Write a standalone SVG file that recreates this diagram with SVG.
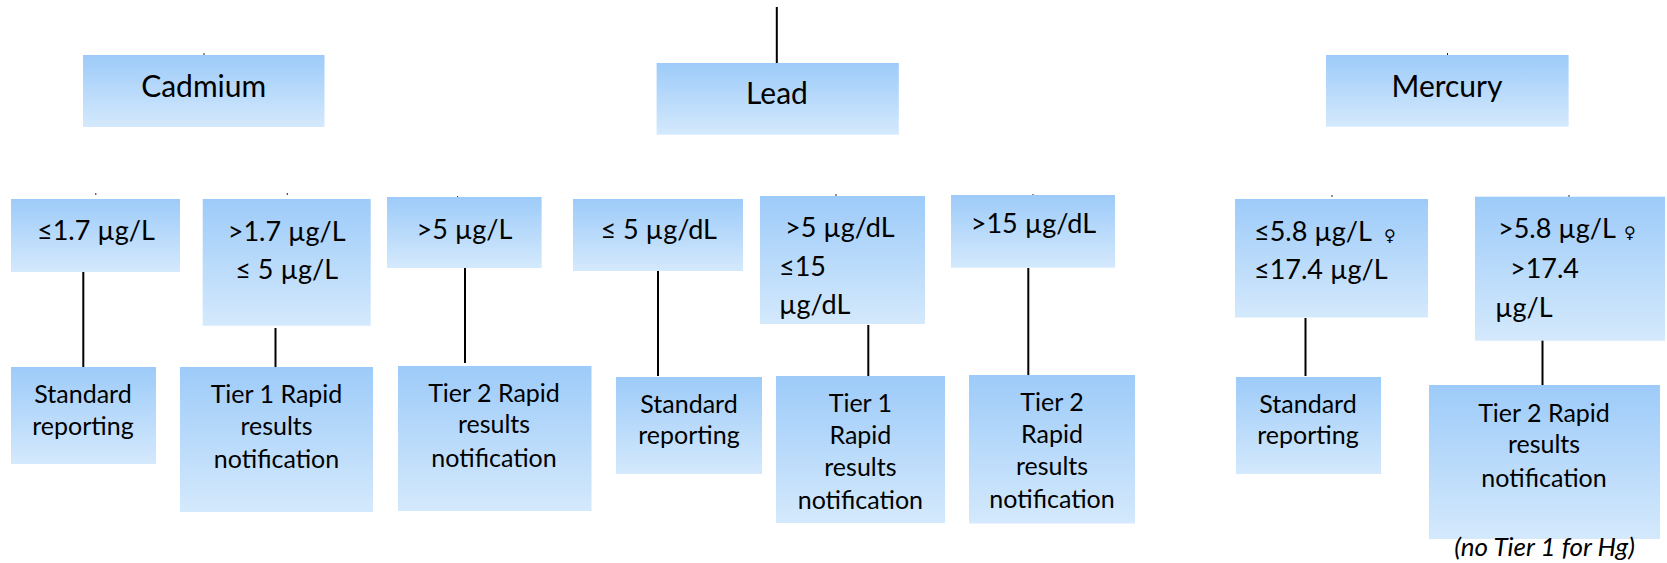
<svg xmlns="http://www.w3.org/2000/svg" width="1667" height="563" viewBox="0 0 1667 563">
<defs>
<linearGradient id="g" x1="0" y1="0" x2="0" y2="1">
<stop offset="0" stop-color="#9DCBF9"/>
<stop offset="1" stop-color="#D4E9FC"/>
</linearGradient>
<style>
.box{fill:url(#g);stroke:none}
.t{font-family:Lato,"DejaVu Sans",sans-serif;fill:#000}
.h{font-size:30px;text-anchor:middle}
.th{font-size:27px}
.c{text-anchor:middle}
.o{font-size:25px;text-anchor:middle}
.n{font-size:26px;font-style:italic;text-anchor:middle}
.fem{font-size:16px;font-family:"DejaVu Sans",sans-serif}
.ln{stroke:#000;stroke-width:2;fill:none}
.tk{stroke:#222;stroke-width:1;fill:none}
</style>
</defs>
<rect width="1667" height="563" fill="#fff"/>
<g id="connectors">
<line class="ln" x1="776.8" y1="7" x2="776.8" y2="63"/>
<line class="ln" x1="83.3" y1="272" x2="83.3" y2="367"/>
<line class="ln" x1="275.5" y1="328" x2="275.5" y2="367"/>
<line class="ln" x1="465" y1="268" x2="465" y2="363"/>
<line class="ln" x1="658" y1="271" x2="658" y2="376"/>
<line class="ln" x1="868.3" y1="325" x2="868.3" y2="376"/>
<line class="ln" x1="1028.3" y1="268" x2="1028.3" y2="375"/>
<line class="ln" x1="1305.5" y1="318" x2="1305.5" y2="376"/>
<line class="ln" x1="1542.5" y1="324" x2="1542.5" y2="385"/>
<line class="tk" x1="204" y1="53" x2="204" y2="55"/>
<line class="tk" x1="1447.5" y1="53" x2="1447.5" y2="55"/>
<line class="tk" x1="95.8" y1="193" x2="95.8" y2="195"/>
<line class="tk" x1="287.3" y1="193" x2="287.3" y2="195"/>
<line class="tk" x1="457.6" y1="196" x2="457.6" y2="198"/>
<line class="tk" x1="668.8" y1="199" x2="668.8" y2="201"/>
<line class="tk" x1="836" y1="194" x2="836" y2="196"/>
<line class="tk" x1="1033" y1="194" x2="1033" y2="196"/>
<line class="tk" x1="1332" y1="195" x2="1332" y2="197"/>
<line class="tk" x1="1569" y1="195" x2="1569" y2="197"/>
</g>
<g id="cadmium">
<rect class="box" x="83" y="55" width="241.5" height="72"/>
<text class="t h" x="203.7" y="96.7">Cadmium</text>
</g>
<g id="lead">
<rect class="box" x="656.6" y="63" width="242.2" height="71.7"/>
<text class="t h" x="777" y="104">Lead</text>
</g>
<g id="mercury">
<rect class="box" x="1326" y="55" width="242.6" height="71.7"/>
<text class="t h" x="1447" y="96.7">Mercury</text>
</g>
<g id="cd-low">
<rect class="box" x="11" y="199" width="169" height="73"/>
<text class="t th c" x="96" y="240">≤1.7 µg/L</text>
</g>
<g id="cd-mid">
<rect class="box" x="202.7" y="199" width="168" height="126.7"/>
<text class="t th c" x="286.7" y="240.7">&gt;1.7 µg/L</text>
<text class="t th c" x="286.7" y="279">≤ 5 µg/L</text>
</g>
<g id="cd-high">
<rect class="box" x="387" y="197" width="154.6" height="71"/>
<text class="t th c" x="464.5" y="239">&gt;5 µg/L</text>
</g>
<g id="pb-low">
<rect class="box" x="573" y="199" width="170" height="72"/>
<text class="t th c" x="658.7" y="239.3">≤ 5 µg/dL</text>
</g>
<g id="pb-mid">
<rect class="box" x="760" y="196" width="165" height="128"/>
<text class="t th" x="785" y="236.7">&gt;5 µg/dL</text>
<text class="t th" x="779" y="275.5">≤15</text>
<text class="t th" x="779" y="314.3">µg/dL</text>
</g>
<g id="pb-high">
<rect class="box" x="951" y="195" width="164" height="72.7"/>
<text class="t th c" x="1033.4" y="232.7">&gt;15 µg/dL</text>
</g>
<g id="hg-low">
<rect class="box" x="1235" y="199" width="193" height="118.5"/>
<text class="t th" x="1254" y="240.7">≤5.8 µg/L <tspan class="fem" dx="6">♀</tspan></text>
<text class="t th" x="1254" y="279">≤17.4 µg/L</text>
</g>
<g id="hg-high">
<rect class="box" x="1475" y="196.7" width="190" height="144"/>
<text class="t th" x="1498" y="238.3">&gt;5.8 µg/L <tspan class="fem" dx="2">♀</tspan></text>
<text class="t th" x="1510" y="278.3">&gt;17.4</text>
<text class="t th" x="1495" y="316.7">µg/L</text>
</g>
<g id="cd-standard">
<rect class="box" x="11" y="367" width="145" height="97"/>
<text class="t o" x="83" y="402.7">Standard</text>
<text class="t o" x="83" y="435.3">reporting</text>
</g>
<g id="cd-tier1">
<rect class="box" x="180" y="367" width="193" height="145"/>
<text class="t o" x="276.5" y="402.7">Tier 1 Rapid</text>
<text class="t o" x="276.5" y="435.3">results</text>
<text class="t o" x="276.5" y="467.7">notification</text>
</g>
<g id="cd-tier2">
<rect class="box" x="398" y="366" width="193.5" height="145"/>
<text class="t o" x="494" y="401.7">Tier 2 Rapid</text>
<text class="t o" x="494" y="433.3">results</text>
<text class="t o" x="494" y="466.7">notification</text>
</g>
<g id="pb-standard">
<rect class="box" x="616" y="377" width="146" height="97"/>
<text class="t o" x="689" y="412.7">Standard</text>
<text class="t o" x="689" y="444.3">reporting</text>
</g>
<g id="pb-tier1">
<rect class="box" x="776" y="376" width="169" height="147"/>
<text class="t o" x="860.4" y="411.7">Tier 1</text>
<text class="t o" x="860.4" y="444.3">Rapid</text>
<text class="t o" x="860.4" y="476">results</text>
<text class="t o" x="860.4" y="509.3">notification</text>
</g>
<g id="pb-tier2">
<rect class="box" x="969" y="375" width="166" height="148.5"/>
<text class="t o" x="1052" y="410.7">Tier 2</text>
<text class="t o" x="1052" y="443.3">Rapid</text>
<text class="t o" x="1052" y="475.3">results</text>
<text class="t o" x="1052" y="508.3">notification</text>
</g>
<g id="hg-standard">
<rect class="box" x="1236" y="377" width="145" height="97"/>
<text class="t o" x="1308" y="412.7">Standard</text>
<text class="t o" x="1308" y="444.3">reporting</text>
</g>
<g id="hg-tier2">
<rect class="box" x="1429" y="385" width="231" height="154"/>
<text class="t o" x="1544" y="421.7">Tier 2 Rapid</text>
<text class="t o" x="1544" y="453.3">results</text>
<text class="t o" x="1544" y="486.7">notification</text>
</g>
<g id="note">
<text class="t n" x="1544.6" y="556">(no Tier 1 for Hg)</text>
</g>
</svg>
